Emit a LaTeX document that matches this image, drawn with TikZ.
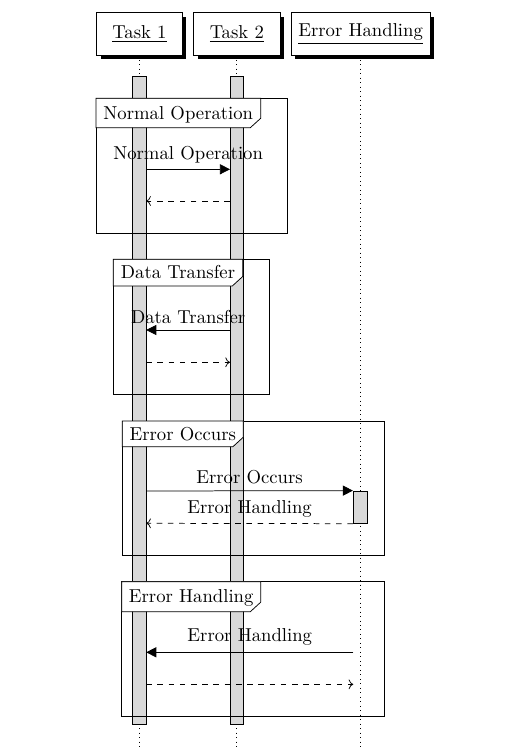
\documentclass[tikz,border=0pt]{standalone}
\usetikzlibrary{arrows.meta,shadows,backgrounds}
\begin{document}
\begin{tikzpicture}[x=0.535pt,y=-0.535pt,
  hdr/.style={draw, fill=white, inner sep=0pt, minimum height=22.6pt,
    drop shadow={shadow xshift=2.14pt, shadow yshift=-2.14pt, fill=black, opacity=1}},
  life/.style={dotted, line width=0.4pt},
  bar/.style={draw, fill=gray!30, inner sep=0pt, minimum width=7.2pt},
  frm/.style={draw, line width=0.4pt},
  flabel/.style={anchor=base, inner sep=0pt},
  call/.style={-{Triangle[length=5.4pt,width=5.4pt]}},
  ret/.style={dashed,->},
  msg/.style={above}
]
\useasboundingbox (0,0) rectangle (517,750);

% headers
\node[hdr, minimum width=45.8pt] (t1) at (139.5,33.8) {\underline{Task 1}};
\node[hdr, minimum width=46.2pt] (t2) at (236.8,33.8) {\underline{Task 2}};
\node[hdr, minimum width=74.4pt] (eh) at (360.6,33.8) {\underline{Error Handling}};

% lifelines
\coordinate (t1end) at (139.5,750);
\coordinate (t2end) at (236.8,750);
\coordinate (ehend) at (360.6,750);
\begin{scope}[on background layer]
\draw[life] (t1.south) -- (t1end);
\draw[life] (t2.south) -- (t2end);
\draw[life] (eh.south) -- (ehend);
\end{scope}

% activation bars
\node[bar, minimum height=346.5pt] (b1) at (139.5,400.5) {};
\node[bar, minimum height=346.5pt] (b2) at (236.8,400.5) {};

% frames
\draw[frm] (96,98.3) rectangle (287.3,233.3);
\draw[frm, fill=white] (96,98.3) -- (260.7,98.3) -- (260.7,118.3) -- (250.3,127.7) -- (96,127.7) -- cycle;
\node[flabel] (f1) at (178.3,119.3) {Normal Operation};

\draw[frm] (113.3,259.3) rectangle (269.3,394.3);
\draw[frm, fill=white] (113.3,259.3) -- (242.7,259.3) -- (242.7,276.5) -- (232.3,286) -- (113.3,286) -- cycle;
\node[flabel] (f2) at (178,278.3) {Data Transfer};

\draw[frm] (122.3,421) rectangle (384.3,555.7);
\draw[frm, fill=white] (122.3,421) -- (243.3,421) -- (243.3,437.2) -- (232.9,446.7) -- (122.3,446.7) -- cycle;
\node[flabel] (f3) at (182.8,440) {Error Occurs};

\draw[frm] (121.7,581.7) rectangle (384,716.7);
\draw[frm, fill=white] (121.7,581.7) -- (260.7,581.7) -- (260.7,602.2) -- (250.3,611.7) -- (121.7,611.7) -- cycle;
\node[flabel] (f4) at (191.2,602.3) {Error Handling};

% nested call marks
\draw (132.6,330) -- (132.6,362.3);
\draw (132.6,652.3) -- (132.6,684.3);

% message endpoints
\coordinate (c1a) at (146.2,169.3);
\coordinate (c1b) at (230,169.3);
\coordinate (r1a) at (230,201);
\coordinate (r1b) at (146.2,201);
\coordinate (c2a) at (230,330);
\coordinate (c2b) at (146.2,330);
\coordinate (r2a) at (146.2,362.3);
\coordinate (r2b) at (230,362.3);
\coordinate (c3a) at (146.2,491);
\coordinate (r3b) at (146.2,523.3);
\coordinate (c4a) at (353.3,652.3);
\coordinate (c4b) at (146.2,652.3);
\coordinate (r4a) at (146.2,684.3);
\coordinate (r4b) at (353.3,684.3);

% error handling activation
\node[bar, minimum width=7.5pt, minimum height=17.3pt] (a3) at (360.3,507.15) {};

% messages
\draw[call] (c1a) -- node[msg] (m1) {Normal Operation} (c1b);
\draw[ret] (r1a) -- (r1b);
\draw[call] (c2a) -- node[msg] (m2) {Data Transfer} (c2b);
\draw[ret] (r2a) -- (r2b);
\draw[call] (c3a) -- node[msg] (m3) {Error Occurs} (a3.north west);
\draw[ret] (a3.south west) -- node[msg] (m3r) {Error Handling} (r3b);
\draw[call] (c4a) -- node[msg] (m4) {Error Handling} (c4b);
\draw[ret] (r4a) -- (r4b);
\end{tikzpicture}
\end{document}
